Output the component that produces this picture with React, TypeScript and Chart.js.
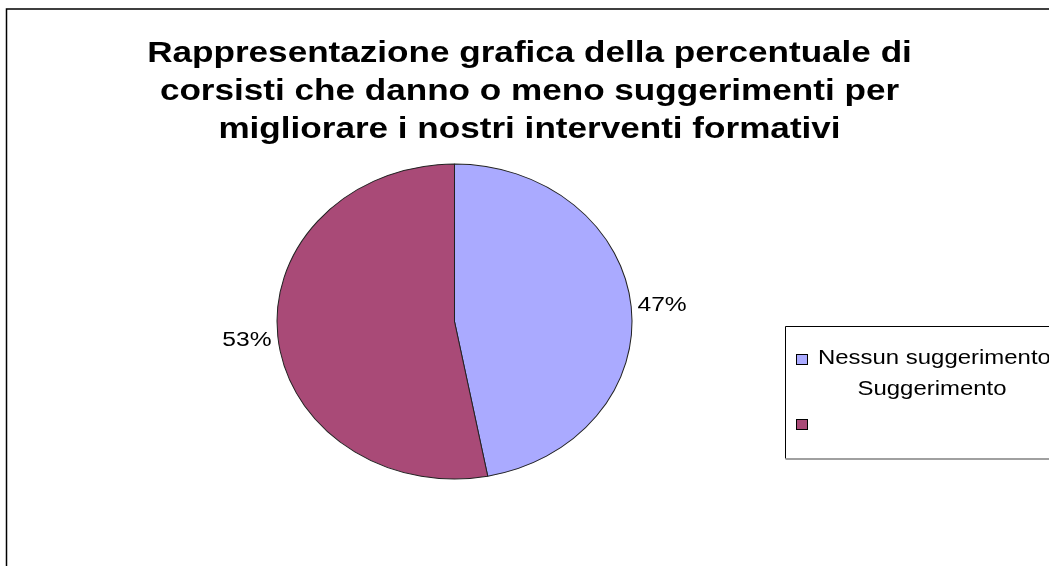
import React, { useEffect, useRef } from "react";
import { Chart, registerables } from "chart.js";

Chart.register(...registerables);

const titleLines = [
  "Rappresentazione grafica della percentuale di",
  "corsisti che danno o meno suggerimenti per",
  "migliorare i nostri interventi formativi",
];
const categories = ["Nessun suggerimento", "Suggerimento"];
const values = [47, 53];
const colors = ["#aaaaff", "#a94a77"];

const FONT = '"Liberation Sans", Arial, sans-serif';
const W = 1049;
const H = 566;
const CX = 454.5;
const CY = 321.5;
const RY = 157.5;
const RX = 177.5;
const SX = RX / RY;

function drawText(
  ctx: CanvasRenderingContext2D,
  text: string,
  x: number,
  y: number,
  size: number,
  bold: boolean,
  sx: number,
  align: CanvasTextAlign
) {
  ctx.save();
  ctx.translate(x, y);
  ctx.scale(sx, 1);
  ctx.font = `${bold ? "bold " : ""}${size}px ${FONT}`;
  ctx.textAlign = align;
  ctx.textBaseline = "alphabetic";
  ctx.fillStyle = "#000";
  ctx.fillText(text, 0, 0);
  ctx.restore();
}

const ellipsePlugin = {
  id: "ellipse",
  beforeDatasetsDraw(chart: any) {
    const arc = chart.getDatasetMeta(0).data[0];
    const ctx = chart.ctx;
    ctx.save();
    ctx.translate(arc.x, arc.y);
    ctx.scale(SX, 1);
    ctx.translate(-arc.x, -arc.y);
  },
  afterDatasetsDraw(chart: any) {
    chart.ctx.restore();
  },
};

const decorPlugin = {
  id: "decor",
  afterDraw(chart: any) {
    const ctx: CanvasRenderingContext2D = chart.ctx;
    ctx.save();
    // outer frame
    ctx.strokeStyle = "#000";
    ctx.lineWidth = 1.5;
    ctx.beginPath();
    ctx.moveTo(6.5, H + 5);
    ctx.lineTo(6.5, 9);
    ctx.lineTo(W + 5, 9);
    ctx.stroke();

    // title
    const tx = 529.5;
    const baselines = [62, 100, 138];
    titleLines.forEach((t, i) => drawText(ctx, t, tx, baselines[i], 30, true, 1.17, "center"));

    // percentage labels
    const meta = chart.getDatasetMeta(0);
    const total = values.reduce((a, b) => a + b, 0);
    meta.data.forEach((arc: any, i: number) => {
      const mid = (arc.startAngle + arc.endAngle) / 2;
      const x = arc.x + Math.cos(mid) * (RX + 31);
      const y = arc.y + Math.sin(mid) * (RY + 33) + 7;
      const pct = Math.round((values[i] / total) * 100) + "%";
      drawText(ctx, pct, x, y, 20.5, false, 1.2, "center");
    });

    // legend box
    const lx = 785.5;
    const ly = 326.5;
    const lh = 132;
    ctx.fillStyle = "#fff";
    ctx.fillRect(lx, ly, W, lh);
    ctx.strokeStyle = "#000";
    ctx.lineWidth = 1;
    ctx.beginPath();
    ctx.moveTo(W + 5, ly);
    ctx.lineTo(lx, ly);
    ctx.lineTo(lx, ly + lh);
    ctx.stroke();
    ctx.strokeStyle = "#808080";
    ctx.lineWidth = 1.5;
    ctx.beginPath();
    ctx.moveTo(lx, ly + lh + 0.5);
    ctx.lineTo(W + 5, ly + lh + 0.5);
    ctx.stroke();

    // legend markers
    const sqY = [354, 419];
    sqY.forEach((sy, i) => {
      ctx.fillStyle = colors[i];
      ctx.fillRect(796, sy, 12, 11);
      ctx.strokeStyle = "#000";
      ctx.lineWidth = 1;
      ctx.strokeRect(796.5, sy + 0.5, 11, 10);
    });
    drawText(ctx, categories[0], 818, 364, 21, false, 1.14, "left");
    drawText(ctx, categories[1], 932, 395, 21, false, 1.14, "center");
    ctx.restore();
  },
};

export default function App() {
  const ref = useRef<HTMLCanvasElement | null>(null);
  useEffect(() => {
    if (!ref.current) return;
    const chart = new Chart(ref.current, {
      type: "pie",
      data: {
        labels: categories,
        datasets: [
          {
            data: values,
            backgroundColor: colors,
            borderColor: "#222",
            borderWidth: 0.9,
          },
        ],
      },
      options: {
        responsive: false,
        animation: false,
        devicePixelRatio: 1,
        radius: RY,
        layout: {
          padding: { left: 0, right: W - 2 * CX, top: 2 * CY - H, bottom: 0 },
        },
        plugins: {
          legend: { display: false },
          title: { display: false },
          tooltip: { enabled: false },
        },
      } as any,
      plugins: [ellipsePlugin, decorPlugin],
    });
    return () => chart.destroy();
  }, []);
  return (
    <div style={{ position: "fixed", left: 0, top: 0, width: W, height: H, background: "#fff" }}>
      <canvas ref={ref} width={W} height={H} style={{ display: "block", width: W, height: H }} />
    </div>
  );
}
